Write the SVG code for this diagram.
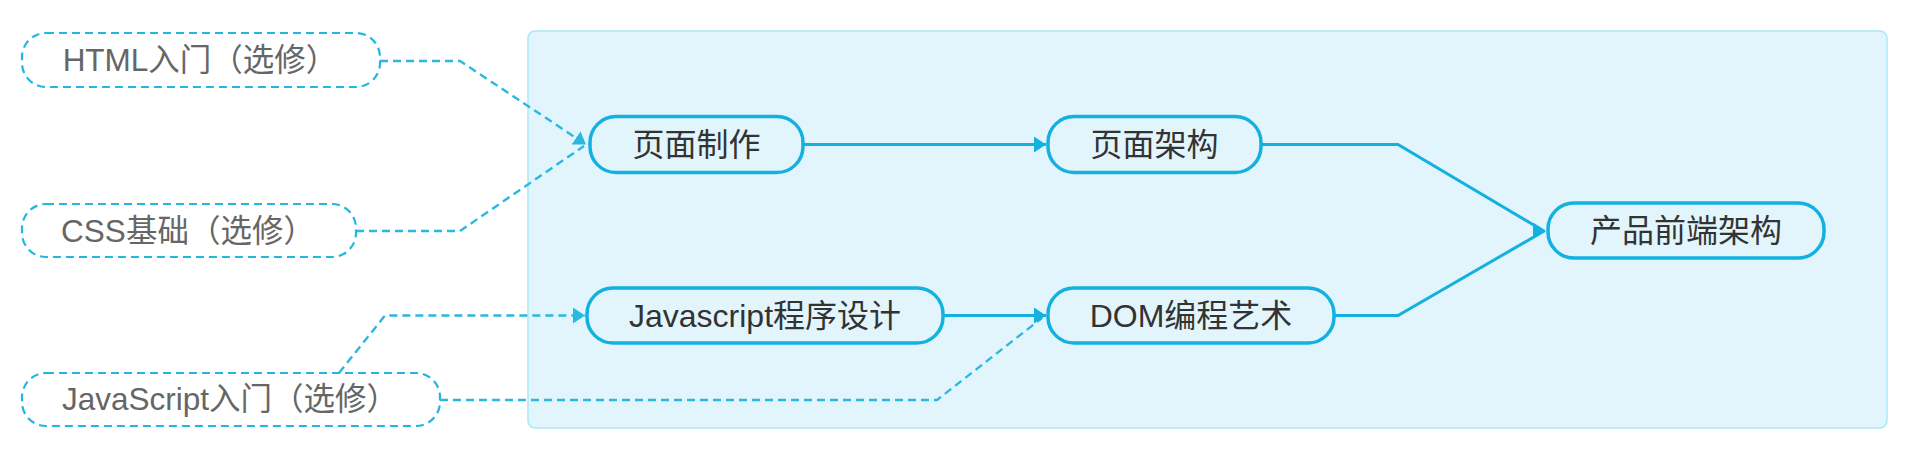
<svg xmlns="http://www.w3.org/2000/svg" width="1928" height="468" viewBox="0 0 1928 468">
<style>
.main rect{fill:#e3f5fc;stroke:#12b1e0;stroke-width:3.5}
.opt rect{fill:#ffffff;stroke:#22b6e0;stroke-width:2.2;stroke-dasharray:8 5}
.main text{font-family:"Liberation Sans","Noto Sans CJK SC",sans-serif;font-size:32px;fill:#333333;text-anchor:middle}
.opt text{font-family:"Liberation Sans","Noto Sans CJK SC",sans-serif;font-size:31.5px;fill:#666666;text-anchor:middle}
.solid{fill:none;stroke:#12b1e0;stroke-width:3}
.dash{fill:none;stroke:#2ab8e0;stroke-width:2.4;stroke-dasharray:8 5}
.ah{marker-end:url(#arr)}
.ahd{marker-end:url(#arrd)}
</style>
<defs>
<marker id="arr" markerUnits="userSpaceOnUse" markerWidth="14" markerHeight="18" refX="12" refY="8" orient="0">
<path d="M0,0 L12,8 L0,16 Z" fill="#12b1e0"/>
</marker>
<marker id="arrd" markerUnits="userSpaceOnUse" markerWidth="14" markerHeight="18" refX="12" refY="8" orient="auto">
<path d="M0,0 L12,8 L0,16 Z" fill="#2ab8e0"/>
</marker>
</defs>
<rect id="panel" x="528" y="31" width="1359" height="397" rx="7" fill="#e3f5fc" stroke="#aee6f6" stroke-width="1.5"/>
<g id="connectors">
<path class="dash" d="M356,231 L460,231 L584,146"/>
<path class="dash ahd" d="M380,61 L460,61 L586,144.5"/>
<path class="dash ahd" d="M339,373 L385,315.5 L585,315.5"/>
<path class="dash" d="M440,400 L937,400 L1042,318"/>
<path class="solid ah" d="M804,144.5 L1046,144.5"/>
<path class="solid ah" d="M944,315.5 L1046,315.5"/>
<path class="solid" d="M1262,144.5 L1398,144.5 L1543,230.5"/>
<path class="solid ah" d="M1335,315.5 L1398,315.5 L1545,230.5"/>
</g>
<g id="n-html" class="opt"><rect x="22" y="33" width="358" height="54" rx="24"/><text x="200" y="71">HTML入门（选修）</text></g>
<g id="n-css" class="opt"><rect x="22" y="204" width="334" height="53" rx="24"/><text x="188" y="242">CSS基础（选修）</text></g>
<g id="n-js" class="opt"><rect x="22" y="373" width="418" height="53" rx="24"/><text x="230" y="410">JavaScript入门（选修）</text></g>
<g id="n-page" class="main"><rect x="590" y="116.5" width="213" height="56" rx="26"/><text x="696.5" y="156">页面制作</text></g>
<g id="n-arch" class="main"><rect x="1048" y="116.5" width="213" height="56" rx="26"/><text x="1154.5" y="156">页面架构</text></g>
<g id="n-jsprog" class="main"><rect x="587" y="288" width="356" height="55" rx="26"/><text x="765" y="327">Javascript程序设计</text></g>
<g id="n-dom" class="main"><rect x="1048" y="288" width="286" height="55" rx="26"/><text x="1191" y="327">DOM编程艺术</text></g>
<g id="n-product" class="main"><rect x="1548" y="203" width="276" height="55" rx="26"/><text x="1686" y="242">产品前端架构</text></g>
</svg>
